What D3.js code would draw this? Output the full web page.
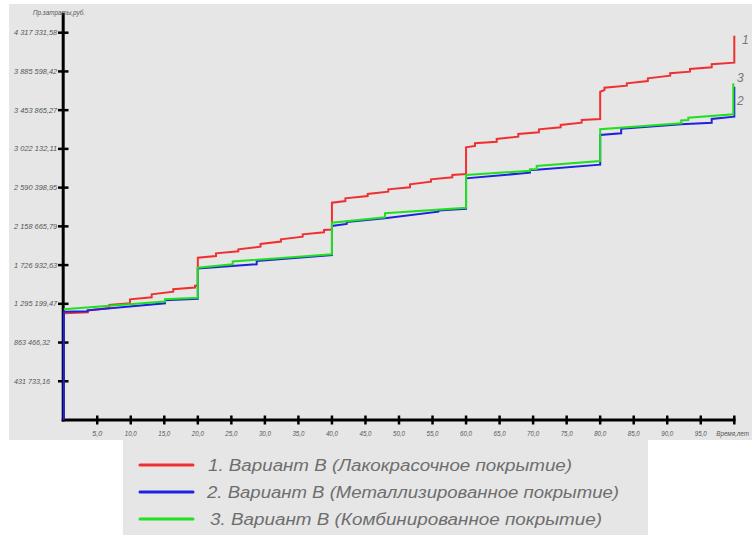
<!DOCTYPE html>
<html><head><meta charset="utf-8">
<script src="https://cdn.jsdelivr.net/npm/d3@7"></script>
<style>body{margin:0;background:#fff}svg{display:block}</style>
</head><body><svg id="c" width="752" height="535"></svg>
<script>
// ---- data ----
const xTicks = [5,10,15,20,25,30,35,40,45,50,55,60,65,70,75,80,85,90,95];
const xTickLabels = ["5,0","10,0","15,0","20,0","25,0","30,0","35,0","40,0","45,0","50,0","55,0","60,0","65,0","70,0","75,0","80,0","85,0","90,0","95,0"];
const xEnd = 100;
const xTitle = "Время,лет";
const yTicks = [431733.16,863466.32,1295199.47,1726932.63,2158665.79,2590398.95,3022132.11,3453865.27,3885598.42,4317331.58];
const yTickLabels = ["431 733,16","863 466,32","1 295 199,47","1 726 932,63","2 158 665,79","2 590 398,95","3 022 132,11","3 453 865,27","3 885 598,42","4 317 331,58"];
const yTitle = "Пр.затраты,руб.";
const seriesNames = ["1. Вариант В (Лакокрасочное покрытие)","2. Вариант В (Металлизированное покрытие)","3. Вариант В (Комбинированное покрытие)"];
const seriesTags = ["1","2","3"];
// [time, cost]
const series1 = [[0,1189400],[3.58,1199500],[3.58,1220600],[6.8,1248500],[6.8,1281900],[9.89,1300900],[9.89,1345500],[13.12,1367800],[13.12,1401200],[16.34,1430200],[16.34,1457000],[19.58,1477000],[19.58,1497100],[20,1499300],[20,1809200],
[22.71,1828200],[22.71,1858200],[26.04,1880500],[26.04,1902800],[29.35,1931800],[29.35,1961900],[32.4,1989800],[32.4,2014300],[35.64,2043300],[35.64,2070000],[38.82,2092300],[38.82,2118000],[40,2123600],[40,2422300],
[42,2441300],[42,2471400],[45.33,2497000],[45.33,2519300],[48.4,2544900],[48.4,2571700],[51.64,2594000],[51.64,2627400],[54.77,2656400],[54.77,2683200],[57.95,2705500],[57.95,2731100],[60,2742200],[60,3039900],
[61.33,3054400],[61.33,3084500],[64.57,3102300],[64.57,3132400],[67.79,3158000],[67.79,3188100],[70.87,3207100],[70.87,3240500],[74.11,3262800],[74.11,3288500],[77.24,3314100],[77.24,3344200],[80,3355300],[80,3659700],
[80.64,3678600],[80.64,3704200],[83.98,3726500],[83.98,3753300],[87.11,3778900],[87.11,3809000],[90.44,3838000],[90.44,3864800],[93.39,3882600],[93.39,3912700],[96.63,3931600],[96.63,3965100],[100,3983000],[100,4283900]];
const series2 = [[0,0],[0,1207300],[3.58,1211700],[3.58,1222900],[15.1,1300900],[15.1,1334300],[20,1352200],[20,1688800],[28.78,1735600],[28.78,1772400],[40,1839300],[40,2162600],[42.2,2184900],[42.2,2207200],[47.91,2248400],[55.86,2321900],[55.86,2334200],[60,2355400],[60,2694300],[69.53,2756700],[69.53,2786800],[70.53,2790200],[80,2845900],[80,3177000],[83.13,3195900],[83.13,3246100],[92.08,3296200],[96.63,3312900],[96.63,3355300],[100,3381000],[100,3715400]];
const series3 = [[0,1234000],[15.1,1320900],[15.1,1345500],[20,1363300],[20,1697700],[25.2,1735600],[25.2,1766900],[40,1847100],[40,2199400],[47.91,2259600],[47.91,2304100],[60,2366600],[60,2731100],[69.53,2779000],[69.53,2794600],[70.53,2798000],[70.53,2831400],[80,2887100],[80,3240500],[92.08,3307400],[92.08,3338600],[93.14,3344200],[93.14,3369800],[99.85,3407700],[99.85,3753300]];
const colors = ["#f03030","#2020e0","#20e020"];

// ---- drawing ----
const svg = d3.select("#c");
const font = "'Liberation Sans','DejaVu Sans',sans-serif";
const x = d3.scaleLinear().domain([0,100]).range([63.7,734.3]);
const y = d3.scaleLinear().domain([0,4317331.58]).range([420,32.7]);

svg.append("rect").attr("x",9).attr("y",4).attr("width",743).attr("height",436).attr("fill","#e6e6e6");
svg.append("rect").attr("x",123).attr("y",440).attr("width",525).attr("height",95).attr("fill","#e6e6e6");

// axes
svg.append("line").attr("x1",63.2).attr("x2",63.2).attr("y1",12.7).attr("y2",421.5).attr("stroke","#000").attr("stroke-width",3);
svg.append("line").attr("x1",61.7).attr("x2",735.5).attr("y1",420).attr("y2",420).attr("stroke","#000").attr("stroke-width",3);

yTicks.forEach((v,i)=>{
  svg.append("line").attr("x1",58).attr("x2",68.5).attr("y1",y(v)).attr("y2",y(v)).attr("stroke","#000").attr("stroke-width",2.5);
  const s = yTickLabels[i];
  svg.append("text").attr("x",14).attr("y",y(v)+2.6).text(s)
    .attr("font-family",font).attr("font-style","italic").attr("font-size",7.5).attr("fill","#555")
    .attr("textLength", s.length*3.6).attr("lengthAdjust","spacingAndGlyphs");
});
svg.append("text").attr("x",33).attr("y",14.5).text(yTitle)
  .attr("font-family",font).attr("font-style","italic").attr("font-size",7).attr("fill","#555")
  .attr("textLength",52).attr("lengthAdjust","spacingAndGlyphs");

xTicks.concat([xEnd]).forEach(t=>{
  svg.append("line").attr("x1",x(t)).attr("x2",x(t)).attr("y1",415.5).attr("y2",424.5).attr("stroke","#000").attr("stroke-width",2.5);
});
xTicks.forEach((t,i)=>{
  const s = xTickLabels[i];
  svg.append("text").attr("x",x(t)).attr("y",435.5).attr("text-anchor","middle").text(s)
    .attr("font-family",font).attr("font-style","italic").attr("font-size",7.5).attr("fill","#555")
    .attr("textLength", s.length===3?10:12).attr("lengthAdjust","spacingAndGlyphs");
});
svg.append("text").attr("x",749).attr("y",435.5).attr("text-anchor","end").text(xTitle)
  .attr("font-family",font).attr("font-style","italic").attr("font-size",6.3).attr("fill","#555");

// series
const line = d3.line().x(d=>x(d[0])).y(d=>y(d[1]));
[series1, series2, series3].forEach((s,i)=>{
  svg.append("path").attr("d",line(s)).attr("fill","none").attr("stroke",colors[i]).attr("stroke-width",2).attr("stroke-linejoin","miter");
});

// end tags
const tagPos = [[742,44],[737,105],[737,82]];
seriesTags.forEach((s,i)=>{
  svg.append("text").attr("x",tagPos[i][0]).attr("y",tagPos[i][1]).text(s)
    .attr("font-family",font).attr("font-style","italic").attr("font-size",12).attr("fill","#777");
});

// legend
const legY = [465,492,519];
const legW = [364,412,392];
const legX = [208,207,210];
seriesNames.forEach((s,i)=>{
  svg.append("line").attr("x1",140).attr("x2",193).attr("y1",legY[i]).attr("y2",legY[i]).attr("stroke",colors[i]).attr("stroke-width",3).attr("stroke-linecap","round");
  svg.append("text").attr("x",legX[i]).attr("y",legY[i]+6).text(s)
    .attr("font-family",font).attr("font-style","italic").attr("font-size",16).attr("fill","#6e6e6e")
    .attr("textLength",legW[i]).attr("lengthAdjust","spacingAndGlyphs");
});
</script></body></html>
